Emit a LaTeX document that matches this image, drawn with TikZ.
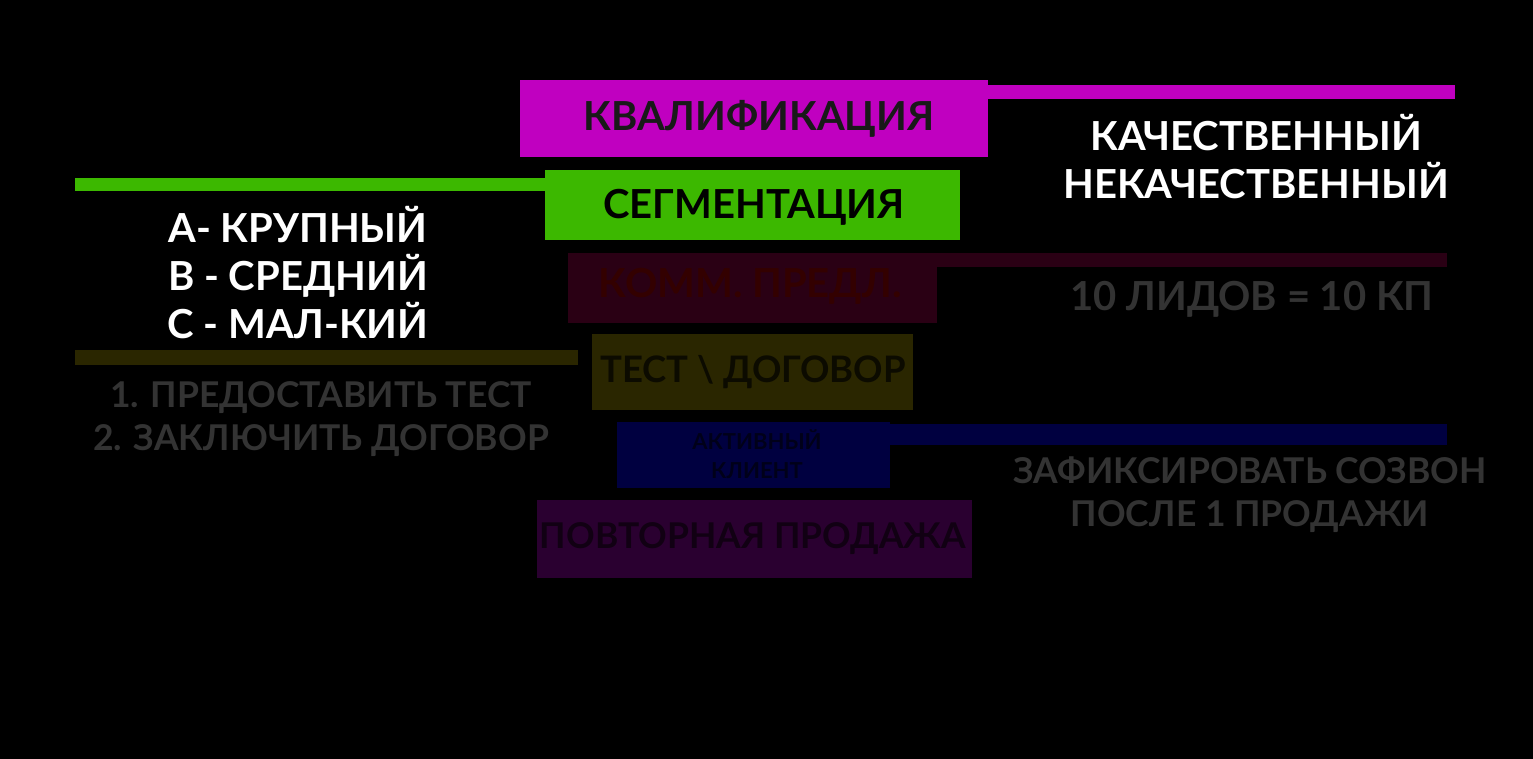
\documentclass[tikz,border=0pt]{standalone}
\usepackage{fontspec}
\setmainfont{Lato}
\begin{document}
\begin{tikzpicture}[x=1pt,y=-1pt,
  lbl/.style={font=\bfseries\fontsize{40}{44}\selectfont,align=center},
  slbl/.style={font=\bfseries\fontsize{35.5}{43}\selectfont,align=center}]
\definecolor{mag}{HTML}{C000C0}
\definecolor{grn}{HTML}{3CB800}
\definecolor{dred}{HTML}{2A0014}
\definecolor{olv}{HTML}{2A2600}
\definecolor{dblu}{HTML}{000040}
\definecolor{dpur}{HTML}{2A0030}
\definecolor{dtxt}{HTML}{333333}
\fill[black] (0,0) rectangle (1533,759);
\useasboundingbox (0,0) rectangle (1533,759);
% lines
\fill[mag] (985,85) rectangle (1455,99);
\fill[grn] (75,178) rectangle (548,191);
\fill[dred] (935,253) rectangle (1447,267);
\fill[olv] (75,350) rectangle (578,365);
\fill[dblu] (885,424) rectangle (1447,445);
% boxes
\node[fill=mag,minimum width=468,minimum height=77,inner sep=0] (kv) at (754,118.5) {};
\node[lbl,text=black!90] at (759,119) {КВАЛИФИКАЦИЯ};
\node[fill=grn,minimum width=415,minimum height=70,inner sep=0] (sg) at (752.5,205) {};
\node[lbl,text=black] at (754,207) {СЕГМЕНТАЦИЯ};
\node[fill=dred,minimum width=369,minimum height=70,inner sep=0] (kp) at (752.5,288) {};
\node[lbl,text=black!80!red] at (750,286) {КОММ. ПРЕДЛ.};
\node[fill=olv,minimum width=321,minimum height=76,inner sep=0] (td) at (752.5,372) {};
\node[lbl,font=\bfseries\fontsize{36.5}{44}\selectfont,text=black!70!olv] at (753,372) {ТЕСТ \textbackslash{} ДОГОВОР};
\node[fill=dblu,minimum width=273,minimum height=66,inner sep=0] (ak) at (753.5,455) {};
\node[font=\bfseries\fontsize{22}{29}\selectfont,align=center,text=black!60!dblu] at (757,454) {АКТИВНЫЙ\\КЛИЕНТ};
\node[fill=dpur,minimum width=435,minimum height=78,inner sep=0] (pp) at (754.5,539) {};
\node[slbl,text=black!60!dpur] at (753,539) {ПОВТОРНАЯ ПРОДАЖА};
% side texts
\node[lbl,text=white,font=\bfseries\fontsize{40}{48}\selectfont] (t1) at (1256,157) {КАЧЕСТВЕННЫЙ\\НЕКАЧЕСТВЕННЫЙ};
\node[lbl,text=white,font=\bfseries\fontsize{40}{48}\selectfont] (t2) at (298,273) {А- КРУПНЫЙ\\В - СРЕДНИЙ\\С - МАЛ-КИЙ};
\node[lbl,text=dtxt] (t3) at (1252,299) {10 ЛИДОВ = 10 КП};
\node[slbl,text=dtxt] (t4) at (321,419) {1. ПРЕДОСТАВИТЬ ТЕСТ\\2. ЗАКЛЮЧИТЬ ДОГОВОР};
\node[slbl,text=dtxt] (t5) at (1250,495) {ЗАФИКСИРОВАТЬ СОЗВОН\\ПОСЛЕ 1 ПРОДАЖИ};
\end{tikzpicture}
\end{document}
